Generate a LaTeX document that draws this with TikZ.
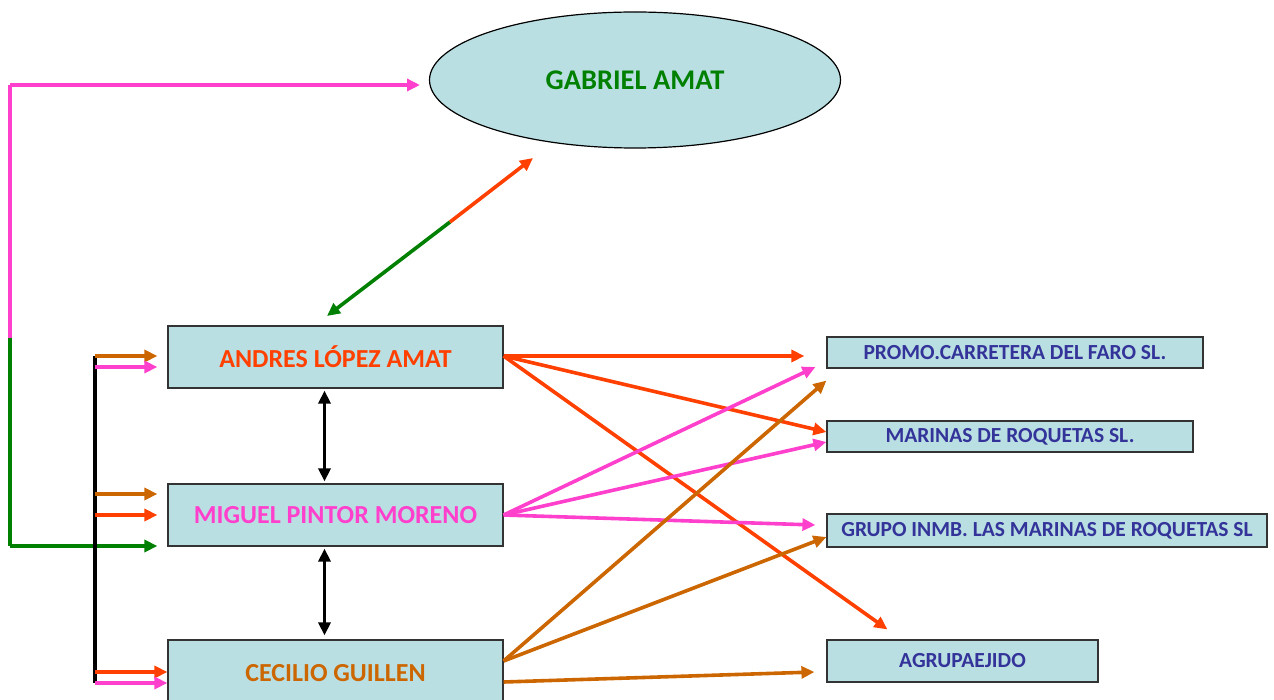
\documentclass[tikz,border=0pt]{standalone}
\usepackage{fontspec}
\setmainfont{Carlito}
\usetikzlibrary{arrows.meta,shapes.geometric,calc}
\definecolor{boxfill}{RGB}{185,223,227}
\definecolor{cpink}{RGB}{255,64,204}
\definecolor{cred}{RGB}{255,64,0}
\definecolor{cbrown}{RGB}{204,102,0}
\definecolor{cgreen}{RGB}{0,128,0}
\definecolor{cblue}{RGB}{51,51,153}
\tikzset{
  person/.style={draw=black!80,line width=1.2pt,fill=boxfill,minimum width=335pt,minimum height=62pt,inner sep=0pt,font=\bfseries\fontsize{26}{30}\selectfont},
  firm/.style={draw=black!80,line width=1.2pt,fill=boxfill,inner sep=0pt,font=\bfseries\fontsize{21.5}{24}\selectfont,text=cblue},
  arr/.style={line width=3.6pt,-{Triangle[length=13pt,width=12pt]}},
  darr/.style={line width=3.6pt,{Triangle[length=13pt,width=12pt]}-{Triangle[length=13pt,width=12pt]}},
  bar/.style={line width=3.6pt}
}
\begin{document}
\begin{tikzpicture}[x=1pt,y=-1pt]
\useasboundingbox (0,0) rectangle (1274,700);
% ellipse
\node[ellipse,draw=black,line width=1.2pt,fill=boxfill,minimum width=411pt,minimum height=136pt,inner sep=0pt,font=\bfseries\fontsize{28.5}{32}\selectfont,text=cgreen] (gab) at (635,80) {GABRIEL AMAT};
% person boxes
\node[person,text=cred] (andres) at (335.5,357) {ANDRES LÓPEZ AMAT};
\node[person,text=cpink] (miguel) at (335.5,515) {MIGUEL PINTOR MORENO};
\node[person,text=cbrown,minimum height=66pt] (cecilio) at (335.5,673) {CECILIO GUILLEN};
% firm boxes
\node[firm,minimum width=376pt,minimum height=31pt] (promo) at (1015,352.5) {PROMO.CARRETERA DEL FARO SL.};
\node[firm,minimum width=366pt,minimum height=31pt] (marinas) at (1010,436.5) {MARINAS DE ROQUETAS SL.};
\node[firm,minimum width=440pt,minimum height=33pt] (grupo) at (1047,530.5) {GRUPO INMB. LAS MARINAS DE ROQUETAS SL};
\node[firm,minimum width=271pt,minimum height=42pt] (agru) at (962.5,661) {AGRUPAEJIDO};
% coordinates
\coordinate (lcorner) at (10,85);
\coordinate (lsplit) at (10,338);
\coordinate (lbot) at (10,546);
\coordinate (gtip) at (533,158);
\coordinate (gmid) at (450,222);
\coordinate (atip) at (327,316);
\coordinate (vtop) at (95,356);
\coordinate (vbot) at (95,683);
% pink/green left path
\draw[bar,cpink] (lsplit) -- (lcorner);
\draw[arr,cpink] (lcorner) -- (420,85);
\draw[bar,cgreen] (lsplit) -- (lbot);
\draw[arr,cgreen] (lbot) -- ($(miguel.west)+(-10,31)$);
% green/red double arrow
\draw[line width=3.6pt,cgreen,{Triangle[length=13pt,width=12pt]}-] (atip) -- (gmid);
\draw[line width=3.6pt,cred,-{Triangle[length=13pt,width=12pt]}] (gmid) -- (gtip);
% black double arrows
\path (andres.south) ++(-11,2) coordinate (a1) (miguel.north) ++(-11,-2) coordinate (m1);
\draw[darr,black] (a1) -- (m1);
\path (miguel.south) ++(-11,2) coordinate (m2) (cecilio.north) ++(-11,-4) coordinate (c1);
\draw[darr,black] (m2) -- (c1);
% left vertical bar
\draw[bar,black] (vtop) -- (vbot);
% short arrows
\draw[arr,cbrown] (95,356) -- ($(andres.west)+(-10,-1)$);
\draw[arr,cpink] (95,367) -- ($(andres.west)+(-10,10)$);
\draw[arr,cbrown] (95,494) -- ($(miguel.west)+(-10,-21)$);
\draw[arr,cred] (95,515) -- ($(miguel.west)+(-10,0)$);
\draw[arr,cred] (95,672) -- ($(cecilio.west)+(0,-1)$);
\draw[arr,cpink] (95,683) -- ($(cecilio.west)+(0,10)$);
% red from Andres
\coordinate (aout) at ($(andres.east)+(0,-1)$);
\draw[arr,cred] (aout) -- ($(promo.west)+(-22,3.5)$);
\draw[arr,cred] (aout) -- ($(marinas.west)+(0,-4.5)$);
\draw[arr,cred] (aout) -- ($(agru.north west)+(61,-10)$);
% pink from Miguel
\coordinate (mout) at (miguel.east);
\draw[arr,cpink] (mout) -- ($(promo.west)+(-11,14.5)$);
\draw[arr,cpink] (mout) -- ($(marinas.west)+(0,5.5)$);
\draw[arr,cpink] (mout) -- ($(grupo.west)+(-11,-5.5)$);
% brown from Cecilio
\coordinate (cout) at ($(cecilio.east)+(0,-12)$);
\draw[arr,cbrown] (cout) -- ($(promo.south west)+(0,12)$);
\draw[arr,cbrown] (cout) -- ($(grupo.west)+(0,6.5)$);
\draw[arr,cbrown] ($(cecilio.east)+(0,9)$) -- ($(agru.west)+(-12,11)$);
\end{tikzpicture}
\end{document}
